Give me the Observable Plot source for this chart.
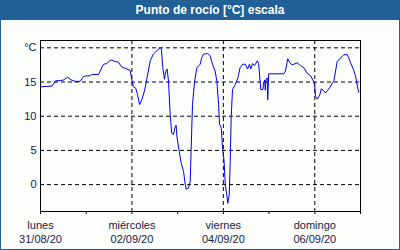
<!DOCTYPE html>
<html>
<head>
<meta charset="utf-8">
<script src="https://cdn.jsdelivr.net/npm/d3@7"></script>
<script src="https://cdn.jsdelivr.net/npm/@observablehq/plot@0.6"></script>
<style>
  html, body { margin: 0; padding: 0; background: #fff; }
  #card { width: 400px; height: 250px; box-sizing: border-box; border: 1px solid #215f96; border-top: none; background: #fbfefb; position: relative; overflow: hidden; }
  #title { height: 20px; background: #215f96; color: #fff; font: bold 12px "Liberation Sans", Arial, sans-serif; line-height: 20px; text-align: center; padding-left: 20px; margin: 0 -1px; }
  #chart svg { display: block; }
</style>
</head>
<body>
<div id="card">
  <div id="title">Punto de rocío [°C] escala</div>
  <div id="chart"></div>
</div>
<script>
const start = "2020-08-31T00:00:00Z";
const end = "2020-09-07T00:00:00Z";
// hours since start and dew point values (°C)
const hours = [0, 6, 8, 10.5, 12.1, 14.3, 16.1, 18.2, 20.8, 22.6, 24, 26.1, 26.9, 30.5, 31.3, 33.1, 34.8, 36.6, 37.4, 39.2,
  41.0, 41.8, 42.7, 44.5, 47.1, 47.9, 48.8, 50.0, 50.9, 52.0, 53.2, 54.6, 55.8, 57.6, 59.3, 61.1, 62.8, 63.5, 64.2, 65.1,
  65.8, 66.5, 67.2, 68.1, 68.9, 69.8, 70.7, 71.2, 71.6, 72.8, 73.9, 75.1, 76.0, 76.5, 77.7, 78.6, 79.1, 79.8, 80.9, 82.1,
  83.8, 84.7, 85.6, 86.8, 87.7, 89.1, 90.3, 91.7, 92.6, 93.5, 94.0, 94.9, 95.6, 96.4, 97.0, 97.8, 98.3, 99.1, 99.6, 100.1,
  100.8, 102.2, 103.6, 104.8, 106.2, 107.5, 108.7, 109.7, 110.4, 111.3, 112.4, 113.8, 114.5, 115.3, 115.6, 116.8, 117.1, 117.7, 118.0, 118.4,
  119.0, 119.3, 119.8, 127.7, 128.6, 129.8, 130.9, 132.1, 134.8, 136.5, 138.2, 140.0, 141.8, 143.0, 143.9, 144.4, 145.3, 146.6, 147.4, 148.4,
  149.6, 150.8, 151.9, 153.2, 154.0, 154.9, 155.8, 157.5, 159.2, 161.0, 161.9, 162.8, 164.2, 165.4, 165.9, 166.6, 167.1];
const dewPoint = [14.3, 14.4, 15.2, 15.2, 15.3, 15.7, 15.3, 15.1, 15.1, 15.8, 15.9, 15.9, 16.1, 16.1, 16.6, 17.6, 17.7, 18.2, 18.2, 18.0,
  17.9, 17.5, 17.2, 17.0, 16.7, 15.4, 14.3, 14.1, 13.2, 11.7, 12.4, 13.7, 15.4, 18.1, 19.1, 19.6, 20.0, 19.8, 17.1, 15.4,
  16.6, 16.9, 15.1, 10.2, 7.5, 7.3, 8.5, 8.7, 7.1, 4.9, 3.1, 1.9, 0.0, -0.65, -0.5, 0.4, 5.3, 11.7, 15.1, 17.1,
  17.6, 18.6, 19.1, 19.1, 19.2, 18.8, 17.6, 16.6, 15.1, 11.7, 8.8, 8.3, 5.3, 3.4, 0.0, -1.5, -2.75, -1.5, 3.4, 9.75,
  13.9, 14.6, 15.6, 17.1, 17.6, 17.6, 16.9, 17.6, 16.9, 17.7, 17.4, 18.1, 17.7, 15.1, 13.9, 13.9, 14.9, 15.3, 13.8, 15.4,
  15.6, 12.4, 16.2, 16.2, 16.6, 18.4, 17.8, 17.5, 17.8, 17.4, 17.1, 16.3, 15.9, 15.3, 14.6, 12.9, 12.5, 13.1, 14.0, 13.8,
  13.4, 13.8, 14.2, 14.85, 15.1, 16.6, 18.0, 18.5, 19.0, 19.0, 18.5, 17.8, 16.9, 15.9, 15.1, 14.1, 13.5];
const yTicks = [0, 5, 10, 15, 20];
const yUnitLabel = "°C";
const labelDates = ["2020-08-31", "2020-09-02", "2020-09-04", "2020-09-06"];
const labelDays = ["lunes", "miércoles", "viernes", "domingo"];
const labelDateText = ["31/08/20", "02/09/20", "04/09/20", "06/09/20"];
const gridDates = ["2020-09-02", "2020-09-04", "2020-09-06"];

const t0 = new Date(start);
const data = hours.map((h, i) => ({ t: new Date(+t0 + h * 3600e3), v: dewPoint[i] }));
const labelTicks = labelDates.map(d => new Date(d + "T00:00:00Z"));
const dayTicks = d3.utcDay.range(new Date(start), d3.utcDay.offset(new Date(end), 1));
const gridTicks = gridDates.map(d => new Date(d + "T00:00:00Z"));
const dayName = new Map(labelTicks.map((d, i) => [+d, labelDays[i]]));
const dateName = new Map(labelTicks.map((d, i) => [+d, labelDateText[i]]));

const navy = "#14204a";
const plot = Plot.plot({
  width: 398,
  height: 229,
  marginLeft: 39,
  marginRight: 39,
  marginTop: 20,
  marginBottom: 38,
  style: { fontFamily: "'Liberation Sans', Arial, sans-serif", fontSize: "11px", background: "transparent", color: navy },
  x: { type: "utc", domain: [new Date(start), new Date(end)], label: null },
  y: { domain: [-3.93, 21.07], label: null },
  marks: [
    Plot.ruleY(yTicks, { stroke: "#000", strokeDasharray: "4,3", strokeWidth: 1 }),
    Plot.ruleX(gridTicks, { stroke: "#000", strokeDasharray: "4,3", strokeWidth: 1 }),
    Plot.line(data, { x: "t", y: "v", stroke: "#0000ee", strokeWidth: 1 }),
    Plot.frame({ stroke: "#000", strokeWidth: 1 }),
    Plot.axisY({ ticks: yTicks, tickSize: 0, tickPadding: 4, label: null, tickFormat: d => d === 20 ? yUnitLabel : d, fill: navy }),
    Plot.axisX({ ticks: dayTicks, tickSize: 3, label: null, tickFormat: () => "", stroke: "#000" }),
    Plot.axisX({ ticks: labelTicks, tickSize: 0, tickPadding: 10, label: null, tickFormat: d => dayName.get(+d), fill: navy }),
    Plot.axisX({ ticks: labelTicks, tickSize: 0, tickPadding: 24, label: null, tickFormat: d => dateName.get(+d), fill: navy })
  ]
});
document.getElementById("chart").appendChild(plot);
</script>
</body>
</html>
